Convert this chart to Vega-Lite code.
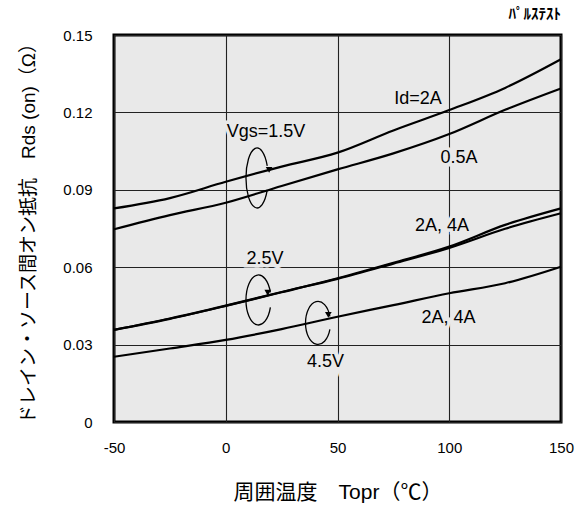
{
  "$schema": "https://vega.github.io/schema/vega-lite/v6.json",
  "width": 447,
  "height": 387,
  "padding": {"left": 19, "top": 7, "right": 18, "bottom": 5},
  "background": "white",
  "title": {"text": "ﾊﾟﾙｽﾃｽﾄ", "anchor": "end", "frame": "group", "fontSize": 15, "fontWeight": "bold", "font": "Noto Sans CJK JP", "offset": 6, "color": "black"},
  "config": {
    "font": "Liberation Sans, Noto Sans CJK JP",
    "view": {"fill": "#e9e9e9", "stroke": "black", "strokeWidth": 3},
    "axis": {"grid": true, "gridColor": "#222", "gridWidth": 1.1, "gridOpacity": 1, "domain": false, "ticks": false, "labelFontSize": 15, "labelColor": "black", "titleColor": "black", "titleFontWeight": "normal"}
  },
  "datasets": {
    "curves": [
      {"T": -50, "R": 0.0828, "s": "a"}, {"T": -25, "R": 0.0868, "s": "a"}, {"T": 0, "R": 0.0931, "s": "a"}, {"T": 25, "R": 0.0990, "s": "a"}, {"T": 50, "R": 0.1044, "s": "a"}, {"T": 75, "R": 0.1130, "s": "a"}, {"T": 100, "R": 0.1209, "s": "a"}, {"T": 125, "R": 0.1295, "s": "a"}, {"T": 150, "R": 0.1406, "s": "a"},
      {"T": -50, "R": 0.0747, "s": "b"}, {"T": -25, "R": 0.0802, "s": "b"}, {"T": 0, "R": 0.0850, "s": "b"}, {"T": 25, "R": 0.0915, "s": "b"}, {"T": 50, "R": 0.0979, "s": "b"}, {"T": 75, "R": 0.1041, "s": "b"}, {"T": 100, "R": 0.1116, "s": "b"}, {"T": 125, "R": 0.1210, "s": "b"}, {"T": 150, "R": 0.1293, "s": "b"},
      {"T": -50, "R": 0.0357, "s": "c"}, {"T": -25, "R": 0.0400, "s": "c"}, {"T": 0, "R": 0.0450, "s": "c"}, {"T": 25, "R": 0.0503, "s": "c"}, {"T": 50, "R": 0.0557, "s": "c"}, {"T": 75, "R": 0.0617, "s": "c"}, {"T": 100, "R": 0.0680, "s": "c"}, {"T": 125, "R": 0.0764, "s": "c"}, {"T": 150, "R": 0.0828, "s": "c"},
      {"T": -50, "R": 0.0357, "s": "d"}, {"T": -25, "R": 0.0401, "s": "d"}, {"T": 0, "R": 0.0451, "s": "d"}, {"T": 25, "R": 0.0504, "s": "d"}, {"T": 50, "R": 0.0555, "s": "d"}, {"T": 75, "R": 0.0614, "s": "d"}, {"T": 100, "R": 0.0675, "s": "d"}, {"T": 125, "R": 0.0749, "s": "d"}, {"T": 150, "R": 0.0809, "s": "d"},
      {"T": -50, "R": 0.0253, "s": "e"}, {"T": -25, "R": 0.0285, "s": "e"}, {"T": 0, "R": 0.0318, "s": "e"}, {"T": 25, "R": 0.0360, "s": "e"}, {"T": 50, "R": 0.0408, "s": "e"}, {"T": 75, "R": 0.0453, "s": "e"}, {"T": 100, "R": 0.0499, "s": "e"}, {"T": 125, "R": 0.0538, "s": "e"}, {"T": 150, "R": 0.0602, "s": "e"}
    ],
    "labels": [
      {"T": 86.0, "R": 0.1252, "t": "Id=2A"},
      {"T": 18.0, "R": 0.1124, "t": "Vgs=1.5V"},
      {"T": 104.4, "R": 0.1023, "t": "0.5A"},
      {"T": 96.8, "R": 0.0760, "t": "2A, 4A"},
      {"T": 17.6, "R": 0.0632, "t": "2.5V"},
      {"T": 44.6, "R": 0.0233, "t": "4.5V"},
      {"T": 99.7, "R": 0.0403, "t": "2A, 4A"}
    ],
    "loops": [
      {"T": 14.0, "R": 0.0946, "v": "1.5V"},
      {"T": 14.6, "R": 0.0473, "v": "2.5V"},
      {"T": 41.3, "R": 0.0384, "v": "4.5V"}
    ],
    "arrows": [
      {"T": 19.4, "R": 0.0977, "v": "1.5V"},
      {"T": 18.8, "R": 0.0501, "v": "2.5V"},
      {"T": 45.9, "R": 0.0415, "v": "4.5V"}
    ]
  },
  "encoding": {
    "x": {"field": "T", "type": "quantitative", "scale": {"domain": [-50, 150], "nice": false, "zero": false},
      "axis": {"values": [-50, 0, 50, 100, 150], "labelExpr": "'' + datum.value", "labelPadding": 18, "title": "周囲温度　Topr（℃）", "titleFontSize": 21, "titlePadding": 26, "labelFlush": false}},
    "y": {"field": "R", "type": "quantitative", "scale": {"domain": [0, 0.15], "nice": false},
      "axis": {"values": [0, 0.03, 0.06, 0.09, 0.12, 0.15], "labelExpr": "datum.value == 0 ? '0' : format(datum.value, '.2f')", "labelPadding": 22, "title": "ドレイン・ソース間オン抵抗　Rds (on)（Ω）", "titleFontSize": 19, "titlePadding": 24}}
  },
  "layer": [
    {"data": {"name": "curves"}, "mark": {"type": "line", "color": "black", "strokeWidth": 2.2, "interpolate": "monotone"}, "encoding": {"detail": {"field": "s"}}},
    {"data": {"name": "labels"}, "mark": {"type": "text", "fontSize": 18, "stroke": "#e9e9e9", "strokeWidth": 7, "fill": "#e9e9e9", "align": "center", "baseline": "middle"}, "encoding": {"text": {"field": "t"}}},
    {"data": {"name": "labels"}, "mark": {"type": "text", "fontSize": 18, "color": "black", "align": "center", "baseline": "middle"}, "encoding": {"text": {"field": "t"}}},
    {"data": {"name": "loops"}, "transform": [{"filter": "datum.v == '1.5V'"}], "mark": {"type": "point", "shape": "M 0.34 0.4 A 0.37 1 0 1 1 0.34 -0.4", "size": 3600, "filled": false, "stroke": "black", "strokeWidth": 1.3, "opacity": 1}},
    {"data": {"name": "loops"}, "transform": [{"filter": "datum.v == '2.5V'"}], "mark": {"type": "point", "shape": "M 0.48 0.3 A 0.5 1 0 1 1 0.48 -0.3", "size": 2500, "filled": false, "stroke": "black", "strokeWidth": 1.3, "opacity": 1}},
    {"data": {"name": "loops"}, "transform": [{"filter": "datum.v == '4.5V'"}], "mark": {"type": "point", "shape": "M 0.55 0.3 A 0.58 1 0 1 1 0.55 -0.3", "size": 1850, "filled": false, "stroke": "black", "strokeWidth": 1.3, "opacity": 1}},
    {"data": {"name": "arrows"}, "mark": {"type": "point", "shape": "triangle-down", "size": 45, "filled": true, "color": "black", "opacity": 1}}
  ]
}
